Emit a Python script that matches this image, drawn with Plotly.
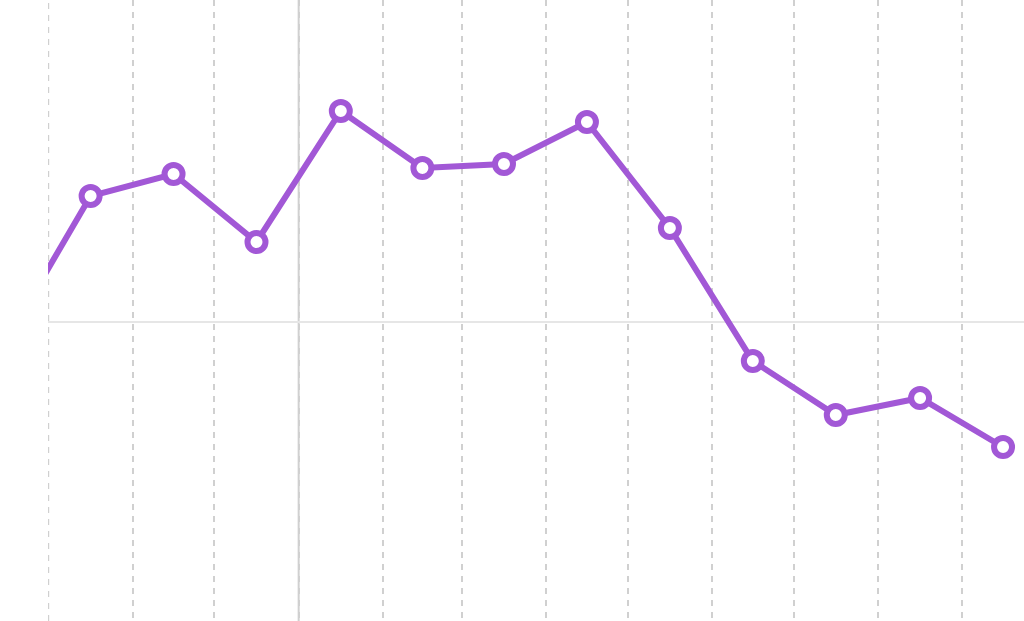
import plotly.graph_objects as go

months = ["2019-09-01", "2019-10-01", "2019-11-01", "2019-12-01", "2020-01-01",
          "2020-02-01", "2020-03-01", "2020-04-01", "2020-05-01", "2020-06-01",
          "2020-07-01", "2020-08-01", "2020-09-01"]
values = [-1.6, 12.6, 14.8, 8.0, 21.1, 15.4, 15.8, 20.0, 9.4, -3.9, -9.3, -7.6, -12.5]
grid_ticks = ["2019-10-01", "2019-11-01", "2019-12-01", "2020-01-01", "2020-02-01",
              "2020-03-01", "2020-04-01", "2020-05-01", "2020-06-01", "2020-07-01",
              "2020-08-01", "2020-09-01"]
year_start = "2020-01-01"
x_range = ["2019-09-30 20:00", "2020-09-23 17:00"]
y_range = [-29.9, 32.2]

color = "#a258d6"

fig = go.Figure()
fig.add_trace(go.Scatter(
    x=months, y=values, mode="lines+markers",
    xperiod="M1", xperiodalignment="middle",
    line=dict(color=color, width=6),
    marker=dict(size=18, color="white", line=dict(color=color, width=6)),
    hoverinfo="skip",
))

fig.add_shape(type="line", xref="x", yref="paper", x0=grid_ticks[0], x1=grid_ticks[0],
              y0=0, y1=1, line=dict(color="#d0d0d0", width=1.5, dash="6px,6px"),
              layer="below")
fig.add_shape(type="line", xref="x", yref="paper", x0=year_start, x1=year_start,
              y0=0, y1=1, line=dict(color="#d0d0d0", width=2), layer="below")

fig.update_layout(
    width=1024, height=621,
    margin=dict(l=48, r=0, t=0, b=0),
    paper_bgcolor="white", plot_bgcolor="white",
    showlegend=False,
    xaxis=dict(type="date", range=x_range, tickmode="array", tickvals=grid_ticks,
               showticklabels=False, ticks="", showgrid=True, gridcolor="#d0d0d0",
               gridwidth=1.5, griddash="6px,6px", zeroline=False, showline=False),
    yaxis=dict(range=y_range, showticklabels=False, ticks="", showgrid=False,
               zeroline=True, zerolinecolor="#e6e6e6", zerolinewidth=2, showline=False),
)

fig.write_html("out.html", config={"displayModeBar": False},
               post_script="document.body.style.margin='0';")
